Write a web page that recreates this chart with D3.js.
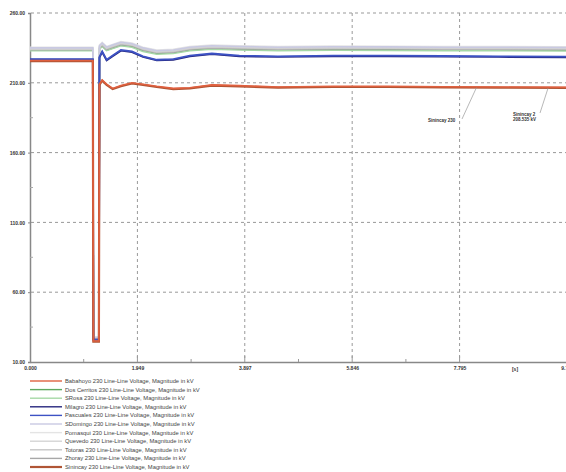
<!DOCTYPE html>
<html>
<head>
<meta charset="utf-8">
<script src="https://cdn.jsdelivr.net/npm/d3@7"></script>
<style>
  body { margin: 0; background: #fff; }
  svg { display: block; font-family: "Liberation Sans", Arial, sans-serif; }
  .grid line { stroke: #999; stroke-dasharray: 3,3; stroke-width: 1; }
  .axis path, .axis line { stroke: #888; }
  .axis text { fill: #333; font-size: 5px; font-weight: bold; }
</style>
</head>
<body>
<svg id="viz"></svg>
<script>
// ----------------------- DATA
const times = [0, 1.14, 1.15, 1.25, 1.26, 1.31, 1.39, 1.50, 1.65, 1.85, 2.05, 2.30, 2.60, 2.90, 3.30, 3.80, 4.50, 5.50, 6.50, 7.50, 8.50, 9.80];

const babahoyo   = [226.0, 226.0, 25.0, 25.0, 209.0, 212.0, 209.0, 206.0, 208.0, 210.0, 209.0, 207.5, 206.0, 206.5, 208.5, 208.0, 207.0, 207.5, 207.5, 207.2, 207.0, 206.8];
const dosCerritos = [233.5, 233.5, 27.0, 27.0, 234.5, 236.5, 233.5, 235.0, 237.0, 236.0, 233.0, 231.0, 231.5, 233.5, 234.5, 234.0, 233.5, 233.8, 233.7, 233.5, 233.5, 233.3];
const sRosa      = [233.0, 233.0, 27.0, 27.0, 234.0, 236.0, 233.0, 234.5, 236.5, 235.5, 232.5, 230.5, 231.0, 233.0, 234.0, 233.5, 233.0, 233.3, 233.2, 233.0, 233.0, 232.8];
const milagro    = [226.5, 226.5, 26.0, 26.0, 228.0, 232.0, 226.0, 229.0, 233.0, 232.0, 228.5, 226.0, 226.5, 229.0, 230.5, 229.0, 228.5, 229.0, 229.0, 228.7, 228.5, 228.3];
const pascuales  = [227.0, 227.0, 26.0, 26.0, 228.5, 232.5, 226.5, 229.5, 233.5, 232.5, 229.0, 226.5, 227.0, 229.5, 231.0, 229.5, 229.0, 229.5, 229.5, 229.2, 229.0, 228.8];
const sDomingo   = [235.0, 235.0, 27.5, 27.5, 236.5, 238.5, 235.5, 237.0, 239.0, 238.0, 235.0, 233.0, 233.5, 235.5, 236.5, 236.0, 235.5, 235.8, 235.7, 235.5, 235.5, 235.3];
const pomasqui   = [235.5, 235.5, 28.0, 28.0, 237.0, 239.0, 236.0, 237.5, 239.5, 238.5, 235.5, 233.5, 234.0, 236.0, 237.0, 236.5, 236.0, 236.3, 236.2, 236.0, 236.0, 235.8];
const quevedo    = [234.5, 234.5, 27.0, 27.0, 236.0, 238.0, 235.0, 236.5, 238.5, 237.5, 234.5, 232.5, 233.0, 235.0, 236.0, 235.5, 235.0, 235.3, 235.2, 235.0, 235.0, 234.8];
const totoras    = [234.0, 234.0, 27.0, 27.0, 235.5, 237.5, 234.5, 236.0, 238.0, 237.0, 234.0, 232.0, 232.5, 234.5, 235.5, 235.0, 234.5, 234.8, 234.7, 234.5, 234.5, 234.3];
const zhoray     = [233.8, 233.8, 26.5, 26.5, 235.0, 237.0, 234.0, 235.5, 237.5, 236.5, 233.5, 231.5, 232.0, 234.0, 235.0, 234.5, 234.0, 234.3, 234.2, 234.0, 234.0, 233.8];
const sinincay   = [225.5, 225.5, 24.5, 24.5, 208.5, 211.5, 208.5, 205.5, 207.5, 209.5, 208.5, 207.0, 205.5, 206.0, 208.0, 207.5, 206.5, 207.0, 207.0, 206.7, 206.5, 206.3];

const seriesNames = ['Babahoyo 230', 'Dos Cerritos 230', 'SRosa 230', 'Milagro 230', 'Pascuales 230', 'SDomingo 230',
  'Pomasqui 230', 'Quevedo 230', 'Totoras 230', 'Zhoray 230', 'Sinincay 230'];
const seriesValues = [babahoyo, dosCerritos, sRosa, milagro, pascuales, sDomingo, pomasqui, quevedo, totoras, zhoray, sinincay];
const seriesColors = ['#e0603f', '#5fa85f', '#a6d8a6', '#27287e', '#3d52c4', '#c9c9e2', '#e4e4e4', '#d4d4d4', '#c6c6c6', '#a8a8a8', '#b05535'];

const yTicks = [10, 60, 110, 160, 210, 260];
const xTicks = [0, 1.949, 3.897, 5.846, 7.795, 9.744];
const xTickLabels = ['0.000', '1.949', '3.897', '5.846', '7.795', '9.744'];

// annotations: [time, label lines]
const notes = [
  { t: 8.1, v: 207.2, lines: ['Sinincay 230'] },
  { t: 9.4, v: 206.9, lines: ['Sinincay 2', '208.535 kV'] }
];

// ----------------------- SETTINGS
const W = 566, H = 472;
const svg = d3.select('#viz').attr('width', W).attr('height', H);

const x = d3.scaleLinear().domain([0, 9.744]).range([30, 567]);
const y = d3.scaleLinear().domain([10, 260]).range([362, 13]);

// ----------------------- GRID
const grid = svg.append('g').attr('class', 'grid');
grid.selectAll('.h').data(yTicks.slice(1)).enter().append('line')
  .attr('x1', 31).attr('x2', W)
  .attr('y1', d => y(d)).attr('y2', d => y(d));
grid.selectAll('.v').data(xTicks.slice(1)).enter().append('line')
  .attr('x1', d => x(d)).attr('x2', d => x(d))
  .attr('y1', 13).attr('y2', 361);

// ----------------------- AXES
const yAxis = d3.axisLeft(y).tickValues(yTicks).tickFormat(d3.format('.2f')).tickSize(2).tickPadding(3);
svg.append('g').attr('class', 'axis')
  .attr('transform', 'translate(30,0)')
  .call(yAxis)
  .call(g => g.select('.domain').attr('stroke-width', 1.5));

// minor y ticks
svg.append('g').selectAll('line')
  .data(d3.range(35, 260, 50))
  .enter().append('line')
  .attr('x1', 30).attr('x2', 33)
  .attr('y1', d => y(d)).attr('y2', d => y(d))
  .attr('stroke', '#aaa');

const xAxis = d3.axisBottom(x).tickValues(xTicks).tickFormat((d, i) => xTickLabels[i]).tickSize(0).tickPadding(4);
svg.append('g').attr('class', 'axis')
  .attr('transform', 'translate(0,362)')
  .call(xAxis)
  .call(g => g.select('.domain').attr('stroke-width', 1.5));

// x ticks upward + minor
svg.append('g').selectAll('line')
  .data(xTicks.slice(1).concat(d3.range(1, 9, 2).map(i => i * 0.9744)))
  .enter().append('line')
  .attr('x1', d => x(d)).attr('x2', d => x(d))
  .attr('y1', 362).attr('y2', (d, i) => i < 5 ? 356 : 359)
  .attr('stroke', '#999');

svg.append('text').attr('x', 515).attr('y', 371)
  .attr('font-size', 5).attr('font-weight', 'bold').attr('fill', '#333')
  .attr('text-anchor', 'middle').text('[s]');

// ----------------------- LINES
const line = d3.line()
  .x((d, i) => x(times[i]))
  .y(d => y(d));

const plot = svg.append('g');
const order = [1, 2, 9, 8, 7, 6, 5, 3, 4, 10, 0];
order.forEach(k => {
  plot.append('path')
    .datum(seriesValues[k])
    .attr('fill', 'none')
    .attr('stroke', seriesColors[k])
    .attr('stroke-width', k === 10 ? 2.2 : (k === 3 || k === 4 ? 1.8 : 1.6))
    .attr('d', line);
});

// ----------------------- ANNOTATIONS
notes.forEach((n, i) => {
  const px = x(n.t), py = y(n.v);
  const lx = i === 0 ? 428 : 513, ly = i === 0 ? 122 : 116;
  svg.append('line')
    .attr('x1', px).attr('y1', py + 1)
    .attr('x2', i === 0 ? 462 : 540).attr('y2', ly - 3)
    .attr('stroke', '#999').attr('stroke-width', 0.7);
  const t = svg.append('text').attr('x', lx).attr('y', ly)
    .attr('font-size', 4.5).attr('font-weight', 'bold').attr('fill', '#333');
  n.lines.forEach((s, j) => t.append('tspan').attr('x', lx).attr('dy', j ? 5 : 0).text(s));
});

// ----------------------- LEGEND
const legend = svg.append('g');
seriesNames.forEach((name, i) => {
  const ly = 381 + i * 8.6;
  legend.append('line')
    .attr('x1', 30).attr('x2', 62).attr('y1', ly).attr('y2', ly)
    .attr('stroke', seriesColors[i]).attr('stroke-width', i === 10 ? 2.2 : 1.4);
  legend.append('text')
    .attr('x', 65).attr('y', ly + 2)
    .attr('font-size', 5.8).attr('fill', '#444')
    .text(name + ' Line-Line Voltage, Magnitude in kV');
});
</script>
</body>
</html>
